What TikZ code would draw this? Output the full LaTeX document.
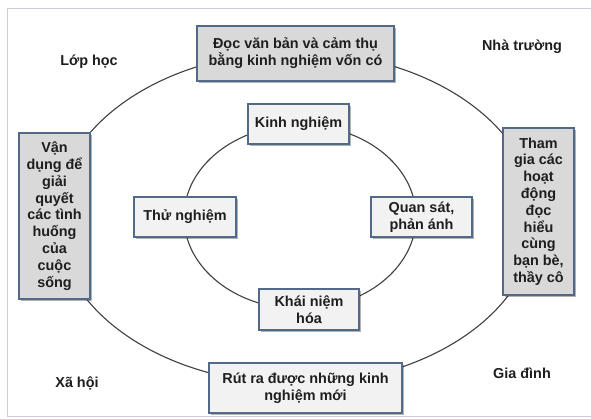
\documentclass[tikz,border=0pt]{standalone}
\usepackage{fontspec}
\setmainfont{Liberation Sans}
\usetikzlibrary{shadows}
\definecolor{boxline}{HTML}{52698A}
\definecolor{darkfill}{HTML}{D9D9D9}
\definecolor{lightfill}{HTML}{F2F2F2}
\definecolor{ringline}{HTML}{404040}
\definecolor{framegray}{HTML}{C9CED6}
\definecolor{inkdark}{HTML}{1E1E1E}
\begin{document}
\begin{tikzpicture}[x=1pt,y=-1pt,
  card/.style={draw=boxline, line width=1.1pt, align=center, inner sep=0pt,
    font=\bfseries\fontsize{14.4}{16.8}\selectfont, text=inkdark,
    drop shadow={shadow xshift=2pt, shadow yshift=-2pt, opacity=0.3, fill=black}},
  outercard/.style={card, fill=darkfill},
  innercard/.style={card, fill=lightfill},
  place/.style={font=\bfseries\fontsize{14.4}{16.8}\selectfont, text=inkdark},
  ring/.style={draw=ringline, line width=1.1pt}]
\useasboundingbox (0,0) rectangle (591,418);
\fill[white] (0,0) rectangle (591,418);
% outer frame
\draw[framegray, line width=0.8pt] (7,8) rectangle (596,416);

% ring centres
\coordinate (outerc) at (296,218);
\coordinate (innerc) at (300,217);

% the two cycles
\draw[ring] (outerc) ellipse [x radius=240, y radius=166];
\draw[ring] (innerc) ellipse [x radius=116, y radius=92];

% outer cycle
\node[outercard, minimum width=197, minimum height=55] (read) at (295.5,53.5)
  {Đọc văn bản và cảm thụ\\bằng kinh nghiệm vốn có};
\node[outercard, minimum width=71, minimum height=167] (join) at (538.5,211.5)
  {Tham\\gia các\\hoạt\\động\\đọc\\hiểu\\cùng\\bạn bè,\\thầy cô};
\node[innercard, minimum width=193, minimum height=50] (learn) at (305.5,388)
  {Rút ra được những kinh\\nghiệm mới};
\node[outercard, minimum width=71, minimum height=166] (apply) at (54.5,216)
  {Vận\\dụng để\\giải\\quyết\\các tình\\huống\\của\\cuộc\\sống};

% inner cycle
\node[innercard, minimum width=101, minimum height=40] (exp) at (298.5,124) {Kinh nghiệm};
\node[innercard, minimum width=101, minimum height=40] (obs) at (421.5,217) {Quan sát,\\phản ánh};
\node[innercard, minimum width=100, minimum height=41] (con) at (309,309.5) {Khái niệm\\hóa};
\node[innercard, minimum width=102, minimum height=40] (try) at (185,217) {Thử nghiệm};

% settings
\node[place] (cls) at (89,62) {Lớp học};
\node[place] (sch) at (522,47) {Nhà trường};
\node[place] (soc) at (77,383) {Xã hội};
\node[place] (fam) at (522,373) {Gia đình};
\end{tikzpicture}
\end{document}
